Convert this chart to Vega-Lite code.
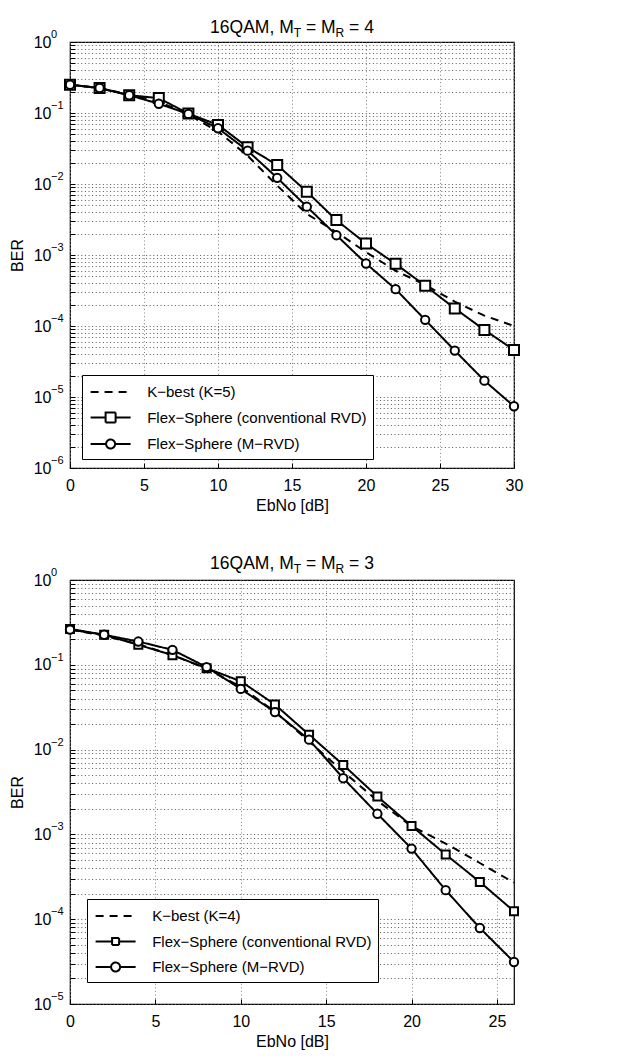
{
  "$schema": "https://vega.github.io/schema/vega-lite/v6.json",
  "background": "white",
  "padding": {"left": 8, "top": 17, "right": 5, "bottom": 5},
  "spacing": 40,
  "config": {
    "font": "Liberation Sans",
    "view": {"stroke": "black", "strokeWidth": 1.2},
    "axis": {
      "labelFont": "Liberation Sans", "labelFontSize": 16, "labelColor": "black",
      "titleFont": "Liberation Sans", "titleFontSize": 16, "titleFontWeight": "normal", "titleColor": "black",
      "domain": false, "ticks": true, "tickSize": -5, "tickColor": "black", "tickWidth": 1,
      "grid": true, "gridDash": [1, 2.6], "gridColor": "#5a5a5a", "gridWidth": 1,
      "labelOverlap": false, "labelFlush": false
    },
    "axisX": {"labelPadding": 14},
    "axisY": {"labelPadding": 24}
  },
  "datasets": {
    "top": [
      {"series": "K−best (K=5)", "x": 0, "ber": 0.25},
      {"series": "K−best (K=5)", "x": 2, "ber": 0.225},
      {"series": "K−best (K=5)", "x": 4, "ber": 0.18},
      {"series": "K−best (K=5)", "x": 6, "ber": 0.145},
      {"series": "K−best (K=5)", "x": 8, "ber": 0.095},
      {"series": "K−best (K=5)", "x": 10, "ber": 0.055},
      {"series": "K−best (K=5)", "x": 12, "ber": 0.025},
      {"series": "K−best (K=5)", "x": 14, "ber": 0.0095},
      {"series": "K−best (K=5)", "x": 16, "ber": 0.0038},
      {"series": "K−best (K=5)", "x": 18, "ber": 0.0021},
      {"series": "K−best (K=5)", "x": 20, "ber": 0.0011},
      {"series": "K−best (K=5)", "x": 22, "ber": 0.0006},
      {"series": "K−best (K=5)", "x": 24, "ber": 0.00038},
      {"series": "K−best (K=5)", "x": 26, "ber": 0.00022},
      {"series": "K−best (K=5)", "x": 28, "ber": 0.00014},
      {"series": "K−best (K=5)", "x": 30, "ber": 0.0001},
      {"series": "Flex−Sphere (conventional RVD)", "x": 0, "ber": 0.25},
      {"series": "Flex−Sphere (conventional RVD)", "x": 2, "ber": 0.225},
      {"series": "Flex−Sphere (conventional RVD)", "x": 4, "ber": 0.178},
      {"series": "Flex−Sphere (conventional RVD)", "x": 6, "ber": 0.162},
      {"series": "Flex−Sphere (conventional RVD)", "x": 8, "ber": 0.098},
      {"series": "Flex−Sphere (conventional RVD)", "x": 10, "ber": 0.068},
      {"series": "Flex−Sphere (conventional RVD)", "x": 12, "ber": 0.033},
      {"series": "Flex−Sphere (conventional RVD)", "x": 14, "ber": 0.0185},
      {"series": "Flex−Sphere (conventional RVD)", "x": 16, "ber": 0.0078},
      {"series": "Flex−Sphere (conventional RVD)", "x": 18, "ber": 0.0031},
      {"series": "Flex−Sphere (conventional RVD)", "x": 20, "ber": 0.00145},
      {"series": "Flex−Sphere (conventional RVD)", "x": 22, "ber": 0.00075},
      {"series": "Flex−Sphere (conventional RVD)", "x": 24, "ber": 0.00037},
      {"series": "Flex−Sphere (conventional RVD)", "x": 26, "ber": 0.000177},
      {"series": "Flex−Sphere (conventional RVD)", "x": 28, "ber": 0.000088},
      {"series": "Flex−Sphere (conventional RVD)", "x": 30, "ber": 0.000046},
      {"series": "Flex−Sphere (M−RVD)", "x": 0, "ber": 0.25},
      {"series": "Flex−Sphere (M−RVD)", "x": 2, "ber": 0.225},
      {"series": "Flex−Sphere (M−RVD)", "x": 4, "ber": 0.178},
      {"series": "Flex−Sphere (M−RVD)", "x": 6, "ber": 0.135},
      {"series": "Flex−Sphere (M−RVD)", "x": 8, "ber": 0.097},
      {"series": "Flex−Sphere (M−RVD)", "x": 10, "ber": 0.061},
      {"series": "Flex−Sphere (M−RVD)", "x": 12, "ber": 0.0295},
      {"series": "Flex−Sphere (M−RVD)", "x": 14, "ber": 0.0122},
      {"series": "Flex−Sphere (M−RVD)", "x": 16, "ber": 0.0048},
      {"series": "Flex−Sphere (M−RVD)", "x": 18, "ber": 0.0019},
      {"series": "Flex−Sphere (M−RVD)", "x": 20, "ber": 0.00076},
      {"series": "Flex−Sphere (M−RVD)", "x": 22, "ber": 0.00033},
      {"series": "Flex−Sphere (M−RVD)", "x": 24, "ber": 0.000122},
      {"series": "Flex−Sphere (M−RVD)", "x": 26, "ber": 0.000045},
      {"series": "Flex−Sphere (M−RVD)", "x": 28, "ber": 0.000017},
      {"series": "Flex−Sphere (M−RVD)", "x": 30, "ber": 0.0000074}
    ],
    "bottom": [
      {"series": "K−best (K=4)", "x": 0, "ber": 0.26},
      {"series": "K−best (K=4)", "x": 2, "ber": 0.22},
      {"series": "K−best (K=4)", "x": 4, "ber": 0.175},
      {"series": "K−best (K=4)", "x": 6, "ber": 0.13},
      {"series": "K−best (K=4)", "x": 8, "ber": 0.09},
      {"series": "K−best (K=4)", "x": 10, "ber": 0.055},
      {"series": "K−best (K=4)", "x": 12, "ber": 0.028},
      {"series": "K−best (K=4)", "x": 14, "ber": 0.0125},
      {"series": "K−best (K=4)", "x": 16, "ber": 0.0055},
      {"series": "K−best (K=4)", "x": 18, "ber": 0.0025},
      {"series": "K−best (K=4)", "x": 20, "ber": 0.00125},
      {"series": "K−best (K=4)", "x": 22, "ber": 0.00078},
      {"series": "K−best (K=4)", "x": 24, "ber": 0.00046},
      {"series": "K−best (K=4)", "x": 26, "ber": 0.00027},
      {"series": "Flex−Sphere (conventional RVD)", "x": 0, "ber": 0.265},
      {"series": "Flex−Sphere (conventional RVD)", "x": 2, "ber": 0.226},
      {"series": "Flex−Sphere (conventional RVD)", "x": 4, "ber": 0.172},
      {"series": "Flex−Sphere (conventional RVD)", "x": 6, "ber": 0.13},
      {"series": "Flex−Sphere (conventional RVD)", "x": 8, "ber": 0.091},
      {"series": "Flex−Sphere (conventional RVD)", "x": 10, "ber": 0.064},
      {"series": "Flex−Sphere (conventional RVD)", "x": 12, "ber": 0.034},
      {"series": "Flex−Sphere (conventional RVD)", "x": 14, "ber": 0.015},
      {"series": "Flex−Sphere (conventional RVD)", "x": 16, "ber": 0.0066},
      {"series": "Flex−Sphere (conventional RVD)", "x": 18, "ber": 0.0028},
      {"series": "Flex−Sphere (conventional RVD)", "x": 20, "ber": 0.00126},
      {"series": "Flex−Sphere (conventional RVD)", "x": 22, "ber": 0.00058},
      {"series": "Flex−Sphere (conventional RVD)", "x": 24, "ber": 0.000275},
      {"series": "Flex−Sphere (conventional RVD)", "x": 26, "ber": 0.000124},
      {"series": "Flex−Sphere (M−RVD)", "x": 0, "ber": 0.26},
      {"series": "Flex−Sphere (M−RVD)", "x": 2, "ber": 0.226},
      {"series": "Flex−Sphere (M−RVD)", "x": 4, "ber": 0.188},
      {"series": "Flex−Sphere (M−RVD)", "x": 6, "ber": 0.15},
      {"series": "Flex−Sphere (M−RVD)", "x": 8, "ber": 0.094},
      {"series": "Flex−Sphere (M−RVD)", "x": 10, "ber": 0.052},
      {"series": "Flex−Sphere (M−RVD)", "x": 12, "ber": 0.0277},
      {"series": "Flex−Sphere (M−RVD)", "x": 14, "ber": 0.0131},
      {"series": "Flex−Sphere (M−RVD)", "x": 16, "ber": 0.0046},
      {"series": "Flex−Sphere (M−RVD)", "x": 18, "ber": 0.00175},
      {"series": "Flex−Sphere (M−RVD)", "x": 20, "ber": 0.00068},
      {"series": "Flex−Sphere (M−RVD)", "x": 22, "ber": 0.00022},
      {"series": "Flex−Sphere (M−RVD)", "x": 24, "ber": 0.0000787},
      {"series": "Flex−Sphere (M−RVD)", "x": 26, "ber": 0.0000313}
    ],
    "topExp": [
      {"ber": 1, "exp": "0"}, {"ber": 0.1, "exp": "−1"}, {"ber": 0.01, "exp": "−2"}, {"ber": 0.001, "exp": "−3"},
      {"ber": 0.0001, "exp": "−4"}, {"ber": 0.00001, "exp": "−5"}, {"ber": 0.000001, "exp": "−6"}
    ],
    "bottomExp": [
      {"ber": 1, "exp": "0"}, {"ber": 0.1, "exp": "−1"}, {"ber": 0.01, "exp": "−2"}, {"ber": 0.001, "exp": "−3"},
      {"ber": 0.0001, "exp": "−4"}, {"ber": 0.00001, "exp": "−5"}
    ]
  },
  "resolve": {
    "scale": {"x": "independent", "y": "independent", "strokeDash": "independent", "shape": "independent", "size": "independent"},
    "legend": {"strokeDash": "independent"}
  },
  "vconcat": [
    {
      "width": 444, "height": 426,
      "layer": [
        {
          "data": {"name": "top"},
          "mark": {"type": "line", "strokeWidth": 2, "color": "black"},
          "encoding": {
            "x": {"field": "x", "type": "quantitative", "scale": {"domain": [0, 30], "nice": false, "zero": false},
                  "axis": {"values": [0, 5, 10, 15, 20, 25, 30], "title": "EbNo [dB]", "gridColor": "#808080"}},
            "y": {"field": "ber", "type": "quantitative", "scale": {"type": "log", "domain": [1e-6, 1], "nice": false},
                  "axis": {"title": "BER", "titlePadding": 8,
                    "values": [1e-6,2e-6,3e-6,4e-6,5e-6,6e-6,7e-6,8e-6,9e-6,1e-5,2e-5,3e-5,4e-5,5e-5,6e-5,7e-5,8e-5,9e-5,1e-4,2e-4,3e-4,4e-4,5e-4,6e-4,7e-4,8e-4,9e-4,1e-3,2e-3,3e-3,4e-3,5e-3,6e-3,7e-3,8e-3,9e-3,1e-2,2e-2,3e-2,4e-2,5e-2,6e-2,7e-2,8e-2,9e-2,0.1,0.2,0.3,0.4,0.5,0.6,0.7,0.8,0.9,1],
                    "labelExpr": "abs(log(datum.value)/LN10 - round(log(datum.value)/LN10)) < 0.001 ? '10' : ''"}},
            "strokeDash": {"field": "series", "type": "nominal",
              "scale": {"domain": ["K−best (K=5)", "Flex−Sphere (conventional RVD)", "Flex−Sphere (M−RVD)"], "range": [[8, 6], [1, 0], [1, 0]]},
              "legend": {
                "title": null, "orient": "none", "legendX": 12, "legendY": 333,
                "strokeColor": "black", "fillColor": "white", "padding": 6, "cornerRadius": 0,
                "labelFont": "Liberation Sans", "labelFontSize": 15, "labelColor": "black", "labelOffset": 25.6, "labelLimit": 400,
                "symbolSize": 400, "symbolOffset": 11.6, "symbolStrokeWidth": 2, "symbolStrokeColor": "black", "symbolFillColor": "white", "rowPadding": 6.5,
                "encoding": {"symbols": {"shape": {"value": {"expr": "datum.index === 0 ? 'M-2,0H2' : datum.index === 1 ? 'M-2,0H-0.5M0.5,0H2M-0.5,-0.5H0.5V0.5H-0.5Z' : 'M-2,0H-0.45M0.45,0H2M-0.45,0A0.45,0.45,0,1,1,0.45,0A0.45,0.45,0,1,1,-0.45,0Z'"}}}}
              }}
          }
        },
        {
          "data": {"name": "top"},
          "transform": [{"filter": {"field": "series", "oneOf": ["Flex−Sphere (conventional RVD)", "Flex−Sphere (M−RVD)"]}}],
          "mark": {"type": "point", "filled": true, "fill": "white", "stroke": "black", "strokeWidth": 2, "opacity": 1},
          "encoding": {
            "x": {"field": "x", "type": "quantitative"},
            "y": {"field": "ber", "type": "quantitative"},
            "shape": {"field": "series", "type": "nominal", "scale": {"domain": ["Flex−Sphere (conventional RVD)", "Flex−Sphere (M−RVD)"], "range": ["square", "circle"]}, "legend": null},
            "size": {"field": "series", "type": "nominal", "scale": {"domain": ["Flex−Sphere (conventional RVD)", "Flex−Sphere (M−RVD)"], "range": [100, 70]}, "legend": null}
          }
        },
        {
          "data": {"name": "topExp"},
          "mark": {"type": "text", "align": "left", "baseline": "middle", "dx": -19, "dy": -7, "fontSize": 11, "font": "Liberation Sans", "color": "black"},
          "encoding": {"x": {"datum": 0, "type": "quantitative"}, "y": {"field": "ber", "type": "quantitative"}, "text": {"field": "exp"}}
        },
        {"data": {"values": [{}]}, "mark": {"type": "text", "align": "left", "baseline": "middle", "dx": -81.9, "fontSize": 17.5, "font": "Liberation Sans", "color": "black"},
         "encoding": {"x": {"datum": 15, "type": "quantitative"}, "y": {"datum": 1.6, "type": "quantitative"}, "text": {"value": "16QAM, M"}}},
        {"data": {"values": [{}]}, "mark": {"type": "text", "align": "left", "baseline": "middle", "dx": 1.7, "dy": 5, "fontSize": 12, "font": "Liberation Sans", "color": "black"},
         "encoding": {"x": {"datum": 15, "type": "quantitative"}, "y": {"datum": 1.6, "type": "quantitative"}, "text": {"value": "T"}}},
        {"data": {"values": [{}]}, "mark": {"type": "text", "align": "left", "baseline": "middle", "dx": 13.9, "fontSize": 17.5, "font": "Liberation Sans", "color": "black"},
         "encoding": {"x": {"datum": 15, "type": "quantitative"}, "y": {"datum": 1.6, "type": "quantitative"}, "text": {"value": "= M"}}},
        {"data": {"values": [{}]}, "mark": {"type": "text", "align": "left", "baseline": "middle", "dx": 43.5, "dy": 5, "fontSize": 12, "font": "Liberation Sans", "color": "black"},
         "encoding": {"x": {"datum": 15, "type": "quantitative"}, "y": {"datum": 1.6, "type": "quantitative"}, "text": {"value": "R"}}},
        {"data": {"values": [{}]}, "mark": {"type": "text", "align": "left", "baseline": "middle", "dx": 57.1, "fontSize": 17.5, "font": "Liberation Sans", "color": "black"},
         "encoding": {"x": {"datum": 15, "type": "quantitative"}, "y": {"datum": 1.6, "type": "quantitative"}, "text": {"value": "= 4"}}}
      ]
    },
    {
      "width": 444, "height": 424,
      "layer": [
        {
          "data": {"name": "bottom"},
          "mark": {"type": "line", "strokeWidth": 2, "color": "black"},
          "encoding": {
            "x": {"field": "x", "type": "quantitative", "scale": {"domain": [0, 26], "nice": false, "zero": false},
                  "axis": {"values": [0, 5, 10, 15, 20, 25], "title": "EbNo [dB]", "gridColor": "#808080"}},
            "y": {"field": "ber", "type": "quantitative", "scale": {"type": "log", "domain": [1e-5, 1], "nice": false},
                  "axis": {"title": "BER", "titlePadding": 8,
                    "values": [1e-5,2e-5,3e-5,4e-5,5e-5,6e-5,7e-5,8e-5,9e-5,1e-4,2e-4,3e-4,4e-4,5e-4,6e-4,7e-4,8e-4,9e-4,1e-3,2e-3,3e-3,4e-3,5e-3,6e-3,7e-3,8e-3,9e-3,1e-2,2e-2,3e-2,4e-2,5e-2,6e-2,7e-2,8e-2,9e-2,0.1,0.2,0.3,0.4,0.5,0.6,0.7,0.8,0.9,1],
                    "labelExpr": "abs(log(datum.value)/LN10 - round(log(datum.value)/LN10)) < 0.001 ? '10' : ''"}},
            "strokeDash": {"field": "series", "type": "nominal",
              "scale": {"domain": ["K−best (K=4)", "Flex−Sphere (conventional RVD)", "Flex−Sphere (M−RVD)"], "range": [[8, 6], [1, 0], [1, 0]]},
              "legend": {
                "title": null, "orient": "none", "legendX": 17, "legendY": 319,
                "strokeColor": "black", "fillColor": "white", "padding": 6, "cornerRadius": 0,
                "labelFont": "Liberation Sans", "labelFontSize": 15, "labelColor": "black", "labelOffset": 25.6, "labelLimit": 400,
                "symbolSize": 400, "symbolOffset": 11.6, "symbolStrokeWidth": 2, "symbolStrokeColor": "black", "symbolFillColor": "white", "rowPadding": 6.5,
                "encoding": {"symbols": {"shape": {"value": {"expr": "datum.index === 0 ? 'M-2,0H2' : datum.index === 1 ? 'M-2,0H-0.35M0.35,0H2M-0.35,-0.35H0.35V0.35H-0.35Z' : 'M-2,0H-0.45M0.45,0H2M-0.45,0A0.45,0.45,0,1,1,0.45,0A0.45,0.45,0,1,1,-0.45,0Z'"}}}}
              }}
          }
        },
        {
          "data": {"name": "bottom"},
          "transform": [{"filter": {"field": "series", "oneOf": ["Flex−Sphere (conventional RVD)", "Flex−Sphere (M−RVD)"]}}],
          "mark": {"type": "point", "filled": true, "fill": "white", "stroke": "black", "strokeWidth": 2, "opacity": 1},
          "encoding": {
            "x": {"field": "x", "type": "quantitative"},
            "y": {"field": "ber", "type": "quantitative"},
            "shape": {"field": "series", "type": "nominal", "scale": {"domain": ["Flex−Sphere (conventional RVD)", "Flex−Sphere (M−RVD)"], "range": ["square", "circle"]}, "legend": null},
            "size": {"field": "series", "type": "nominal", "scale": {"domain": ["Flex−Sphere (conventional RVD)", "Flex−Sphere (M−RVD)"], "range": [64, 70]}, "legend": null}
          }
        },
        {
          "data": {"name": "bottomExp"},
          "mark": {"type": "text", "align": "left", "baseline": "middle", "dx": -19, "dy": -7, "fontSize": 11, "font": "Liberation Sans", "color": "black"},
          "encoding": {"x": {"datum": 0, "type": "quantitative"}, "y": {"field": "ber", "type": "quantitative"}, "text": {"field": "exp"}}
        },
        {"data": {"values": [{}]}, "mark": {"type": "text", "align": "left", "baseline": "middle", "dx": -81.9, "fontSize": 17.5, "font": "Liberation Sans", "color": "black"},
         "encoding": {"x": {"datum": 13, "type": "quantitative"}, "y": {"datum": 1.545, "type": "quantitative"}, "text": {"value": "16QAM, M"}}},
        {"data": {"values": [{}]}, "mark": {"type": "text", "align": "left", "baseline": "middle", "dx": 1.7, "dy": 5, "fontSize": 12, "font": "Liberation Sans", "color": "black"},
         "encoding": {"x": {"datum": 13, "type": "quantitative"}, "y": {"datum": 1.545, "type": "quantitative"}, "text": {"value": "T"}}},
        {"data": {"values": [{}]}, "mark": {"type": "text", "align": "left", "baseline": "middle", "dx": 13.9, "fontSize": 17.5, "font": "Liberation Sans", "color": "black"},
         "encoding": {"x": {"datum": 13, "type": "quantitative"}, "y": {"datum": 1.545, "type": "quantitative"}, "text": {"value": "= M"}}},
        {"data": {"values": [{}]}, "mark": {"type": "text", "align": "left", "baseline": "middle", "dx": 43.5, "dy": 5, "fontSize": 12, "font": "Liberation Sans", "color": "black"},
         "encoding": {"x": {"datum": 13, "type": "quantitative"}, "y": {"datum": 1.545, "type": "quantitative"}, "text": {"value": "R"}}},
        {"data": {"values": [{}]}, "mark": {"type": "text", "align": "left", "baseline": "middle", "dx": 57.1, "fontSize": 17.5, "font": "Liberation Sans", "color": "black"},
         "encoding": {"x": {"datum": 13, "type": "quantitative"}, "y": {"datum": 1.545, "type": "quantitative"}, "text": {"value": "= 3"}}}
      ]
    }
  ]
}
